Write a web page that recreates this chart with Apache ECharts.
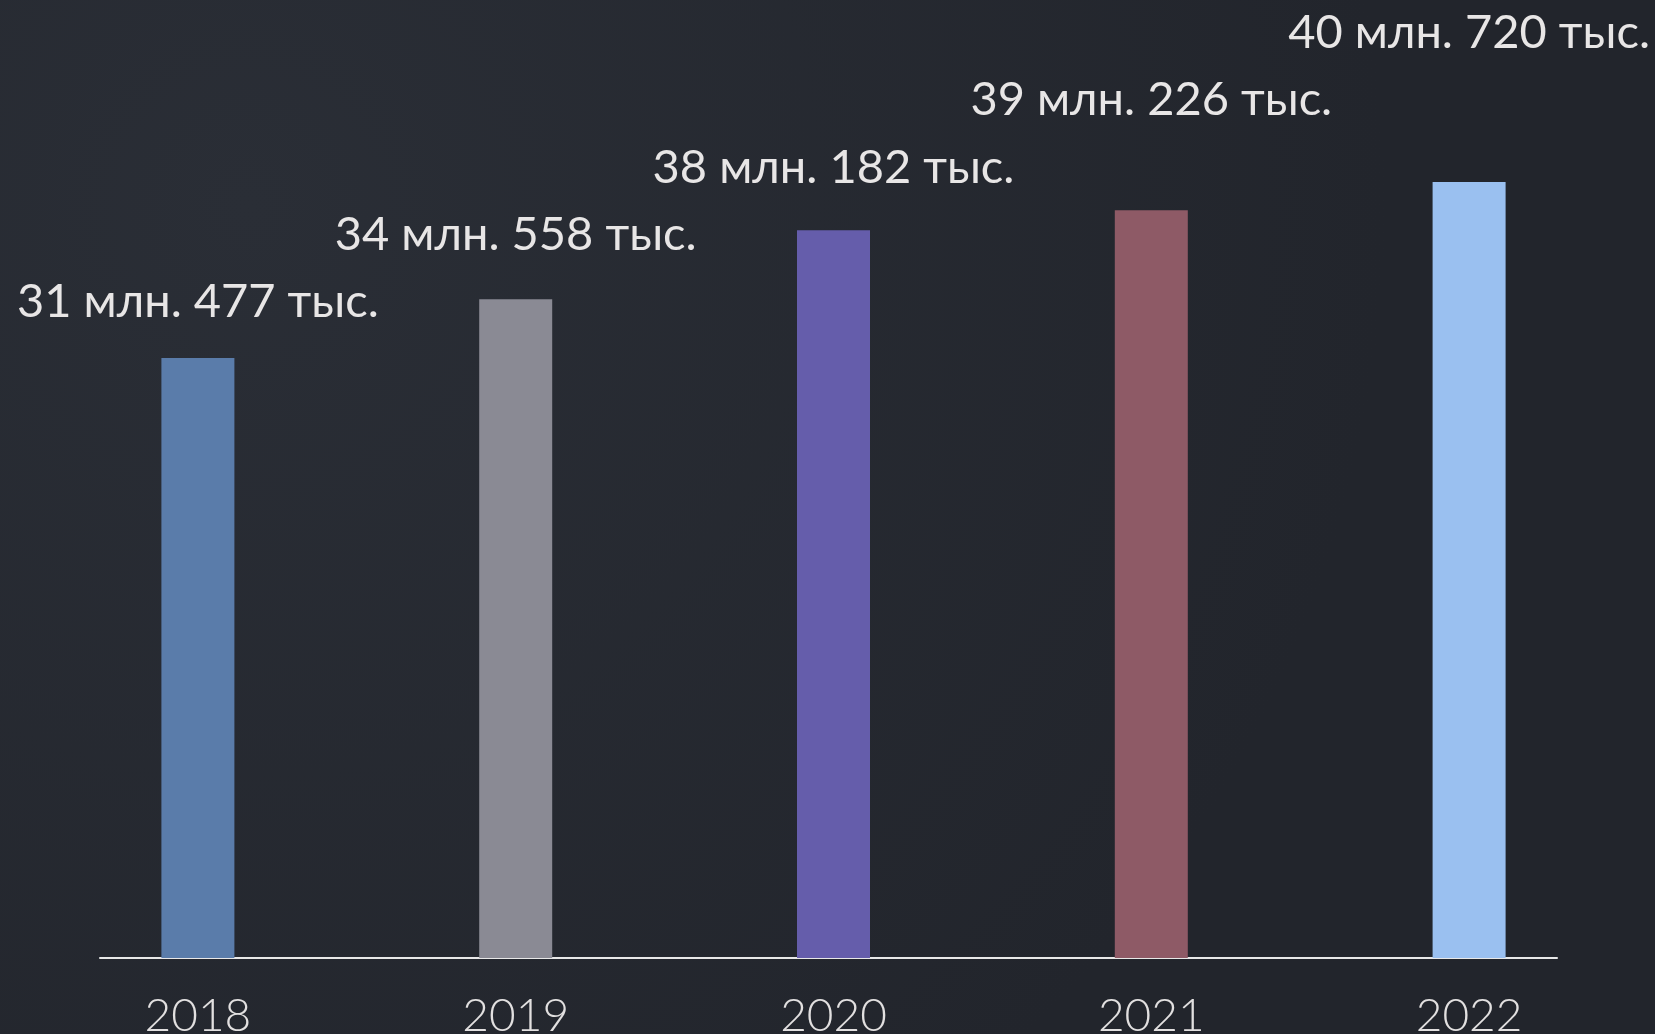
<!DOCTYPE html>
<html>
<head>
<meta charset="utf-8">
<script src="https://cdn.jsdelivr.net/npm/echarts@6/dist/echarts.min.js"></script>
<style>
html,body{margin:0;padding:0;background:#252930;}
#chart{width:1655px;height:1034px;}
</style>
</head>
<body>
<div id="chart"></div>
<script>
// ---- data ----
const categories = ['2018', '2019', '2020', '2021', '2022'];
const values = [31.477, 34.558, 38.182, 39.226, 40.720]; // millions
const valueLabels = ['31 млн. 477 тыс.', '34 млн. 558 тыс.', '38 млн. 182 тыс.', '39 млн. 226 тыс.', '40 млн. 720 тыс.'];

// ---- styles ----
const barColors = ['#5a7caa', '#8a8a94', '#655dab', '#8e5a66', '#9ac0f0'];
const labelLift = [56, 64, 62, 110, 149];

const chart = echarts.init(document.getElementById('chart'));
chart.setOption({
  backgroundColor: {
    type: 'radial', x: 0.15, y: 0.2, r: 1.1,
    colorStops: [{offset: 0, color: '#2a2e36'}, {offset: 1, color: '#22252c'}]
  },
  animation: false,
  grid: [
    {left: 39, right: 27, top: 5, bottom: 76, containLabel: false, outerBoundsMode: 'none'},
    {left: 100, right: 98, top: 900, bottom: 76, containLabel: false, outerBoundsMode: 'none'}
  ],
  xAxis: [
    {
      type: 'category', data: categories, gridIndex: 0,
      axisLine: {show: false}, axisTick: {show: false},
      axisLabel: {color: '#e2e0e0', fontFamily: 'Lato', fontWeight: 300, fontSize: 46, margin: 35}
    },
    {
      type: 'value', gridIndex: 1, min: 0, max: 1,
      axisLine: {show: true, lineStyle: {color: '#e8e8e8', width: 2}},
      axisTick: {show: false}, axisLabel: {show: false}, splitLine: {show: false}
    }
  ],
  yAxis: [
    {type: 'value', gridIndex: 0, min: 0, max: 50, show: false, splitLine: {show: false}},
    {type: 'value', gridIndex: 1, show: false}
  ],
  series: [{
    type: 'bar',
    xAxisIndex: 0, yAxisIndex: 0,
    barWidth: 73,
    data: values.map((v, i) => ({
      value: v,
      itemStyle: {color: barColors[i]},
      label: {
        show: true, position: 'top', distance: 0,
        offset: [0, -(labelLift[i] - 23)],
        formatter: valueLabels[i]
      }
    })),
    label: {
      color: '#e8e6e6', fontFamily: 'Lato', fontSize: 47, fontWeight: 400
    }
  }]
});
</script>
</body>
</html>
